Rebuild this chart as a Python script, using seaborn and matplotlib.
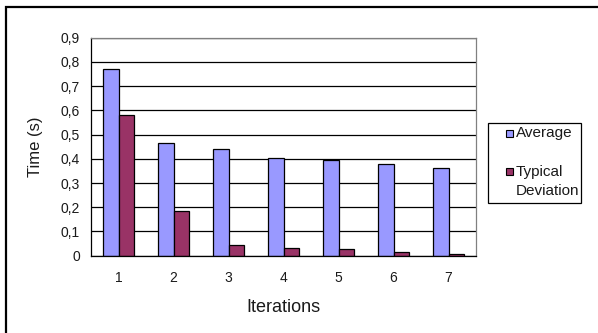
import matplotlib
matplotlib.use("Agg")
import matplotlib.pyplot as plt
from matplotlib.patches import Rectangle
import numpy as np
import pandas as pd
import seaborn as sns

iterations = ["1", "2", "3", "4", "5", "6", "7"]
average = [0.77, 0.465, 0.44, 0.405, 0.397, 0.38, 0.363]
typical_deviation = [0.58, 0.185, 0.044, 0.030, 0.026, 0.015, 0.005]
series_names = ["Average", "Typical Deviation"]
legend_labels = ["Average", "Typical\nDeviation"]
y_ticks = [0, 0.1, 0.2, 0.3, 0.4, 0.5, 0.6, 0.7, 0.8, 0.9]
y_tick_labels = ["0", "0,1", "0,2", "0,3", "0,4", "0,5", "0,6", "0,7", "0,8", "0,9"]

df = pd.DataFrame({
    "Iterations": iterations * 2,
    "Time": average + typical_deviation,
    "Series": [series_names[0]] * len(iterations) + [series_names[1]] * len(iterations),
})

sns.set_style("white")
plt.rcParams["font.family"] = ["Liberation Sans", "DejaVu Sans"]

colors = ["#9999FF", "#993366"]
text_color = "#1a1a1a"
W, H = 598, 333


def fx(px):
    return px / W


def fy(py):
    return 1 - py / H


fig = plt.figure(figsize=(W / 100, H / 100), dpi=100)
ax = fig.add_axes([fx(91), fy(255.7), (476 - 91) / W, (255.7 - 37.7) / H])

sns.barplot(data=df, x="Iterations", y="Time", hue="Series", palette=colors,
            width=0.55, edgecolor="black", linewidth=0.9, saturation=1,
            ax=ax, legend=False)

ax.set_xlim(-0.5, len(iterations) - 0.5)
ax.set_ylim(0, 0.9)
ax.set_yticks(y_ticks)
ax.set_yticklabels(y_tick_labels, fontsize=10)
ax.yaxis.grid(True, color="black", linewidth=0.9)
ax.set_axisbelow(True)

# category labels at the centres, tick marks on the category boundaries
ax.set_xticks(np.arange(len(iterations)), minor=True)
ax.set_xticklabels(iterations, minor=True, fontsize=10)
ax.set_xticks(np.arange(-0.5, len(iterations), 1.0))
ax.set_xticklabels([])
ax.tick_params(axis="x", which="minor", length=0, pad=11)
ax.tick_params(axis="x", which="major", length=5, width=0.9, direction="out")
ax.tick_params(axis="y", length=5, width=0.9, direction="out", pad=3)
ax.tick_params(axis="both", which="both", colors="black", labelcolor=text_color)

for name, sp in ax.spines.items():
    sp.set_visible(True)
    sp.set_linewidth(0.9)
    sp.set_color("black" if name in ("left", "bottom") else "#808080")

ax.set_xlabel("Iterations", fontsize=13, color=text_color)
ax.set_ylabel("Time (s)", fontsize=12, color=text_color)
ax.xaxis.set_label_coords(0.5, -0.197)
ax.yaxis.set_label_coords(-0.125, 0.5)

# legend box with square swatches; the swatch sits beside the first text line
fig.patches.append(Rectangle((fx(488.3), fy(202.7)), (581 - 488.3) / W, (202.7 - 122.7) / H,
                             transform=fig.transFigure, facecolor="white",
                             edgecolor="black", linewidth=0.9))
swatch_rows = [133.3, 171.7]
for color, label, yc in zip(colors, legend_labels, swatch_rows):
    fig.patches.append(Rectangle((fx(506), fy(yc + 3.5)), 7 / W, 7 / H,
                                 transform=fig.transFigure, facecolor=color,
                                 edgecolor="black", linewidth=0.8))
    fig.text(fx(515.5), fy(yc - 6.8), label, fontsize=11, color=text_color,
             ha="left", va="top", linespacing=1.42)

# outer chart frame (runs past the right and bottom edges)
fig.patches.append(Rectangle((fx(6), -0.1), 1.2, fy(7) + 0.1,
                             transform=fig.transFigure, fill=False,
                             edgecolor="black", linewidth=1.6))

fig.savefig("out.png", dpi=100)
